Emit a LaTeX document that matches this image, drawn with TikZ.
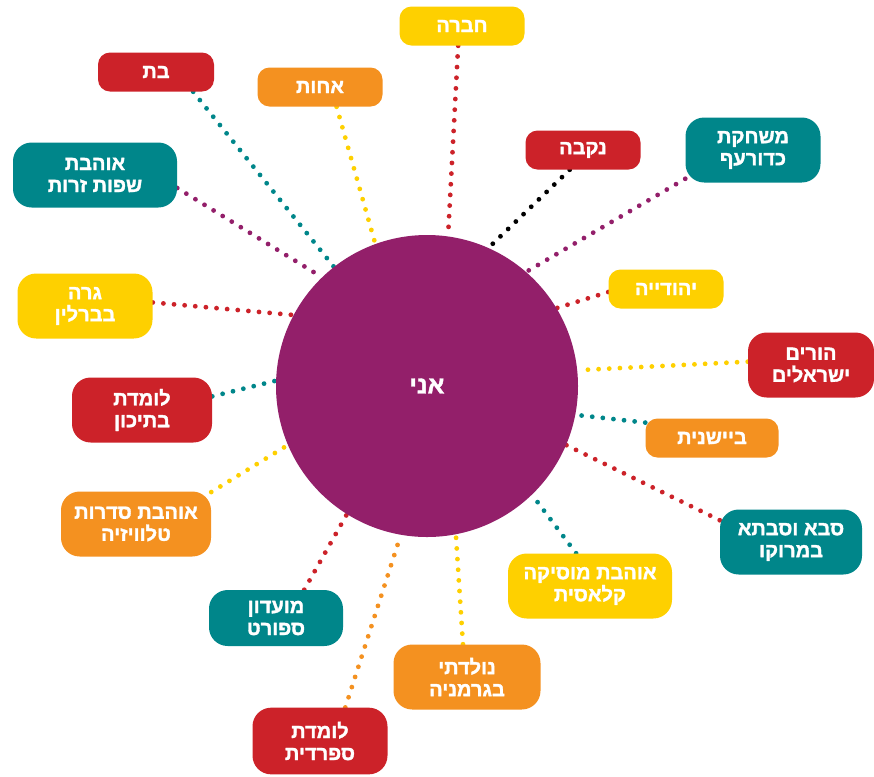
\documentclass[tikz,border=0pt]{standalone}
\usepackage{fontspec}
\newfontfamily\hebfont[Script=Hebrew, BoldFeatures={FakeBold=1.6}]{Liberation Sans}
\TeXXeTstate=1
\usetikzlibrary{backgrounds}
\definecolor{plum}{RGB}{147,31,106}
\definecolor{brick}{RGB}{204,34,41}
\definecolor{sea}{RGB}{0,134,138}
\definecolor{amber}{RGB}{244,145,32}
\definecolor{sun}{RGB}{254,208,0}
\newcommand{\heb}[1]{\beginR #1\endR}

\begin{document}
\begin{tikzpicture}[x=0.75pt, y=-0.75pt,
	box/.style = {text=white, align=center, inner sep=0pt, font=\hebfont\bfseries\fontsize{15}{16.5}\selectfont},
	one/.style = {box, rounded corners=9pt, minimum height=29.25pt},
	two/.style = {box, rounded corners=14pt, minimum height=48.75pt},
	dots/.style = {line width=3.6pt, line cap=round, dash pattern=on 0pt off 8pt}]
	\useasboundingbox (0,0) rectangle (874,776);
	\node[circle, fill=plum, minimum size=226.5pt, inner sep=0pt, text=white, font=\hebfont\bfseries\fontsize{18.5}{20}\selectfont] (me) at (427,386) {\heb{אני}};
	\node[one] (bat) at (156,72) [fill=brick, minimum width=87pt] {\heb{בת}};
	\node[one] (sister) at (320,87) [fill=amber, minimum width=93.75pt] {\heb{אחות}};
	\node[one] (friend) at (462,26) [fill=sun, minimum width=93.75pt] {\heb{חברה}};
	\node[one] (female) at (583,150) [fill=brick, minimum width=86.25pt] {\heb{נקבה}};
	\node[two] (volley) at (753,150) [fill=sea, minimum width=101.25pt] {\heb{משחקת}\\\heb{כדורעף}};
	\node[two] (languages) at (95,175) [fill=sea, minimum width=123pt] {\heb{אוהבת}\\\heb{שפות זרות}};
	\node[two] (berlin) at (85,306) [fill=sun, minimum width=101.25pt] {\heb{גרה}\\\heb{בברלין}};
	\node[one] (jewish) at (666,289) [fill=sun, minimum width=86.25pt] {\heb{יהודייה}};
	\node[two] (parents) at (811,365) [fill=brick, minimum width=94.5pt] {\heb{הורים}\\\heb{ישראלים}};
	\node[two] (school) at (142,410) [fill=brick, minimum width=105pt] {\heb{לומדת}\\\heb{בתיכון}};
	\node[one] (shy) at (712,438) [fill=amber, minimum width=99.75pt] {\heb{ביישנית}};
	\node[two] (grand) at (791,542) [fill=sea, minimum width=106.5pt] {\heb{סבא וסבתא}\\\heb{במרוקו}};
	\node[two] (tv) at (136,524) [fill=amber, minimum width=112.5pt] {\heb{אוהבת סדרות}\\\heb{טלוויזיה}};
	\node[two] (music) at (590,586) [fill=sun, minimum width=123pt] {\heb{אוהבת מוסיקה}\\\heb{קלאסית}};
	\node[two] (sport) at (276,618) [fill=sea, minimum width=100.5pt, minimum height=42pt] {\heb{מועדון}\\\heb{ספורט}};
	\node[two] (germany) at (467,677) [fill=amber, minimum width=110.25pt] {\heb{נולדתי}\\\heb{בגרמניה}};
	\node[two] (spanish) at (320,741) [fill=brick, minimum width=101.25pt, minimum height=50pt] {\heb{לומדת}\\\heb{ספרדית}};
	\begin{pgfonlayer}{background}
		\path[dots, color=sea] (bat.-28) edge (me.128)
			(school.11) edge (me.178)
			(shy.167) edge (me.-11)
			(music.113) edge (me.-46);
		\path[dots, color=sun] (sister.-50) edge (me.110)
			(parents.177) edge (me.6)
			(tv.23) edge (me.-157)
			(germany.97) edge (me.-79);
		\path[dots, color=brick] (friend.-101) edge (me.82)
			(berlin.3) edge (me.152)
			(jewish.-177) edge (me.31)
			(grand.163) edge (me.-23)
			(sport.45) edge (me.-122);
		\path[dots, color=amber] (spanish.53) edge (me.-100);
		\path[dots, color=plum] (volley.-157) edge (me.49)
			(languages.-9) edge (me.134);
		\path[dots, color=black] (female.-124) edge (me.66);
	\end{pgfonlayer}
\end{tikzpicture}
\end{document}
